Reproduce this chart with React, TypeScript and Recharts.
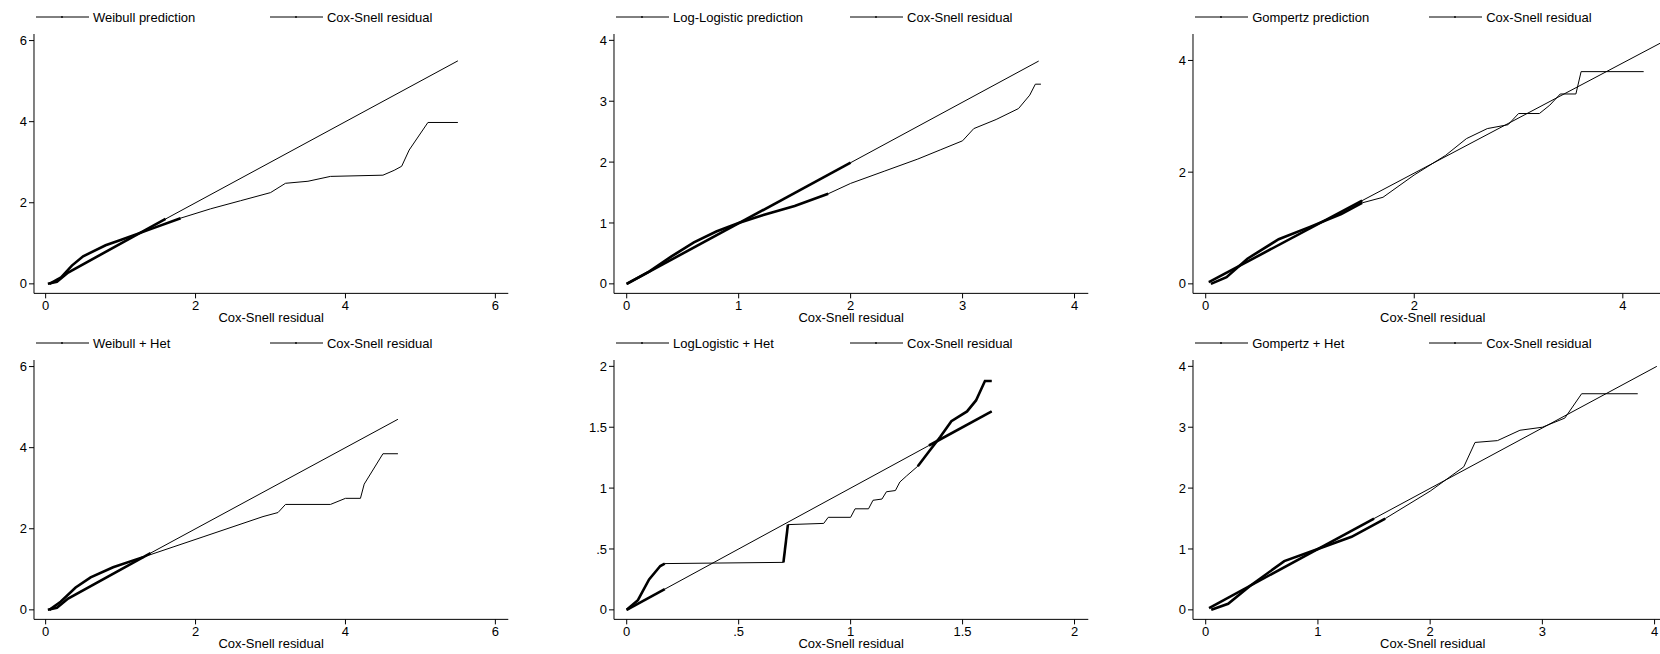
import React from "react";
import { LineChart, Line, XAxis, YAxis } from "recharts";

type P = { x: number; y: number };
type R = [number, number][];

const weibullPred: P[] = [{ x: 0.03, y: 0.0 }, { x: 0.15, y: 0.05 }, { x: 0.3, y: 0.28 }, { x: 1.6, y: 1.6 }, { x: 5.5, y: 5.5 }];
const weibullRes: P[] = [
  { x: 0.05, y: 0 }, { x: 0.2, y: 0.15 }, { x: 0.35, y: 0.45 }, { x: 0.5, y: 0.68 }, { x: 0.8, y: 0.95 },
  { x: 1.0, y: 1.08 }, { x: 1.4, y: 1.35 }, { x: 1.8, y: 1.62 }, { x: 2.2, y: 1.85 }, { x: 2.6, y: 2.05 },
  { x: 3.0, y: 2.25 }, { x: 3.2, y: 2.48 }, { x: 3.5, y: 2.53 }, { x: 3.8, y: 2.65 }, { x: 4.5, y: 2.68 },
  { x: 4.65, y: 2.8 }, { x: 4.75, y: 2.9 }, { x: 4.85, y: 3.3 }, { x: 5.1, y: 3.98 }, { x: 5.5, y: 3.98 },
];
const llPred: P[] = [{ x: 0, y: 0 }, { x: 2.0, y: 1.99 }, { x: 3.68, y: 3.66 }];
const llRes: P[] = [
  { x: 0, y: 0 }, { x: 0.2, y: 0.2 }, { x: 0.4, y: 0.45 }, { x: 0.6, y: 0.68 }, { x: 0.8, y: 0.86 },
  { x: 1.0, y: 1.0 }, { x: 1.2, y: 1.12 }, { x: 1.5, y: 1.28 }, { x: 1.8, y: 1.48 }, { x: 2.0, y: 1.65 },
  { x: 2.3, y: 1.85 }, { x: 2.6, y: 2.05 }, { x: 2.8, y: 2.2 }, { x: 3.0, y: 2.35 }, { x: 3.1, y: 2.55 },
  { x: 3.3, y: 2.7 }, { x: 3.5, y: 2.88 }, { x: 3.6, y: 3.1 }, { x: 3.65, y: 3.28 }, { x: 3.7, y: 3.28 },
];
const gomPred: P[] = [{ x: 0.03, y: 0.03 }, { x: 1.5, y: 1.49 }, { x: 4.4, y: 4.35 }];
const gomRes: P[] = [
  { x: 0.05, y: 0 }, { x: 0.2, y: 0.12 }, { x: 0.4, y: 0.45 }, { x: 0.7, y: 0.8 }, { x: 1.0, y: 1.02 },
  { x: 1.3, y: 1.25 }, { x: 1.5, y: 1.45 }, { x: 1.7, y: 1.55 }, { x: 2.0, y: 1.95 }, { x: 2.3, y: 2.3 },
  { x: 2.5, y: 2.6 }, { x: 2.7, y: 2.78 }, { x: 2.9, y: 2.85 }, { x: 3.0, y: 3.05 }, { x: 3.2, y: 3.05 },
  { x: 3.3, y: 3.2 }, { x: 3.4, y: 3.4 }, { x: 3.55, y: 3.4 }, { x: 3.6, y: 3.8 }, { x: 4.2, y: 3.8 },
];
const weibullHetPred: P[] = [{ x: 0.03, y: 0 }, { x: 0.15, y: 0.05 }, { x: 0.3, y: 0.28 }, { x: 1.4, y: 1.4 }, { x: 4.7, y: 4.7 }];
const weibullHetRes: P[] = [
  { x: 0.05, y: 0 }, { x: 0.2, y: 0.2 }, { x: 0.4, y: 0.55 }, { x: 0.6, y: 0.8 }, { x: 0.9, y: 1.05 },
  { x: 1.3, y: 1.3 }, { x: 1.7, y: 1.55 }, { x: 2.1, y: 1.8 }, { x: 2.5, y: 2.05 }, { x: 2.9, y: 2.3 },
  { x: 3.1, y: 2.4 }, { x: 3.2, y: 2.6 }, { x: 3.8, y: 2.6 }, { x: 4.0, y: 2.75 }, { x: 4.2, y: 2.75 },
  { x: 4.25, y: 3.1 }, { x: 4.5, y: 3.85 }, { x: 4.7, y: 3.85 },
];
const llHetPred: P[] = [{ x: 0, y: 0 }, { x: 0.17, y: 0.17 }, { x: 1.35, y: 1.35 }, { x: 1.63, y: 1.63 }];
const llHetRes: P[] = [
  { x: 0, y: 0 }, { x: 0.05, y: 0.08 }, { x: 0.1, y: 0.25 }, { x: 0.15, y: 0.36 }, { x: 0.17, y: 0.38 },
  { x: 0.7, y: 0.39 }, { x: 0.72, y: 0.7 }, { x: 0.88, y: 0.71 }, { x: 0.9, y: 0.76 }, { x: 1.0, y: 0.76 },
  { x: 1.02, y: 0.83 }, { x: 1.08, y: 0.83 }, { x: 1.1, y: 0.9 }, { x: 1.14, y: 0.91 }, { x: 1.16, y: 0.97 },
  { x: 1.2, y: 0.98 }, { x: 1.22, y: 1.05 }, { x: 1.25, y: 1.1 }, { x: 1.3, y: 1.18 }, { x: 1.35, y: 1.3 },
  { x: 1.4, y: 1.42 }, { x: 1.45, y: 1.55 }, { x: 1.52, y: 1.63 }, { x: 1.56, y: 1.72 }, { x: 1.6, y: 1.88 },
  { x: 1.63, y: 1.88 },
];
const gomHetPred: P[] = [{ x: 0.03, y: 0.03 }, { x: 1.5, y: 1.5 }, { x: 4.02, y: 4.0 }];
const gomHetRes: P[] = [
  { x: 0.05, y: 0 }, { x: 0.2, y: 0.1 }, { x: 0.4, y: 0.4 }, { x: 0.7, y: 0.8 }, { x: 1.0, y: 1.0 },
  { x: 1.3, y: 1.2 }, { x: 1.6, y: 1.5 }, { x: 2.0, y: 1.95 }, { x: 2.3, y: 2.35 }, { x: 2.4, y: 2.75 },
  { x: 2.6, y: 2.78 }, { x: 2.8, y: 2.95 }, { x: 3.0, y: 3.0 }, { x: 3.2, y: 3.15 }, { x: 3.35, y: 3.55 },
  { x: 3.85, y: 3.55 },
];

const ticks6 = [0, 2, 4, 6];
const ticks4 = [0, 1, 2, 3, 4];
const ticksG = [0, 2, 4];
const ticks2 = [0, 0.5, 1, 1.5, 2];

type Panel = {
  name: string; pred: P[]; res: P[]; tp: R; tr: R;
  L: number; R: number; T: number; B: number; x0: number; kx: number; y0: number; ky: number;
  xt: number[]; yt: number[];
};

const panels: Panel[] = [
  { name: "Weibull prediction", pred: weibullPred, res: weibullRes, tp: [[0, 1.6]], tr: [[0, 1.8]], L: 32, R: 480, T: 32, B: 277, x0: 43, kx: 70.8, y0: 268, ky: 38.3, xt: ticks6, yt: ticks6 },
  { name: "Log-Logistic prediction", pred: llPred, res: llRes, tp: [[0, 2.0]], tr: [[0, 1.8]], L: 580, R: 1028, T: 32, B: 277, x0: 592, kx: 105.75, y0: 268, ky: 57.5, xt: ticks4, yt: ticks4 },
  { name: "Gompertz prediction", pred: gomPred, res: gomRes, tp: [[0, 1.5]], tr: [[0, 1.5]], L: 1127, R: 1580, T: 32, B: 277, x0: 1139, kx: 98.5, y0: 268, ky: 52.75, xt: ticksG, yt: ticksG },
  { name: "Weibull + Het", pred: weibullHetPred, res: weibullHetRes, tp: [[0, 1.4]], tr: [[0, 1.3]], L: 32, R: 480, T: 340, B: 585, x0: 43, kx: 70.8, y0: 576, ky: 38.3, xt: ticks6, yt: ticks6 },
  { name: "LogLogistic + Het", pred: llHetPred, res: llHetRes, tp: [[0, 0.17], [1.35, 1.63]], tr: [[0, 0.17], [0.7, 0.72], [1.3, 1.63]], L: 580, R: 1028, T: 340, B: 585, x0: 592, kx: 211.5, y0: 576, ky: 115, xt: ticks2, yt: ticks2 },
  { name: "Gompertz + Het", pred: gomHetPred, res: gomHetRes, tp: [[0, 1.5]], tr: [[0, 1.6]], L: 1127, R: 1580, T: 340, B: 585, x0: 1139, kx: 106, y0: 576, ky: 57.5, xt: ticks4, yt: ticks4 },
];

const S = 1660 / 1568;
const fmt = (v: number) => String(v).replace(/^0\./, ".");
const font = "Arial, 'Liberation Sans', sans-serif";
const FS = 13;

function LegendItem({ left, top, label }: { left: number; top: number; label: string }) {
  return (
    <div style={{ position: "absolute", left, top, display: "flex", alignItems: "center", fontSize: FS, fontFamily: font, whiteSpace: "nowrap" }}>
      <svg width={55} height={4}><line x1={0} y1={2} x2={53} y2={2} stroke="#000" strokeWidth={1} /><circle cx={26} cy={2} r={0.9} fill="#000" /></svg>
      <span style={{ marginLeft: 2 }}>{label}</span>
    </div>
  );
}

const inRange = (d: P[], [a, b]: [number, number]) => d.filter((p) => p.x >= a - 1e-9 && p.x <= b + 1e-9);

function PanelChart({ p }: { p: Panel }) {
  const L = p.L * S, Rr = p.R * S, T = p.T * S, B = p.B * S, x0 = p.x0 * S, kx = p.kx * S, y0 = p.y0 * S, ky = p.ky * S;
  const xmin = (L - x0) / kx, xmax = (Rr - x0) / kx;
  const ymax = (y0 - T) / ky, ymin = (y0 - B) / ky;
  const W = Rr - L + 42, H = B - T + 45;
  return (
    <>
      <LegendItem left={L + 2} top={T - 24} label={p.name} />
      <LegendItem left={L + 236} top={T - 24} label="Cox-Snell residual" />
      <div style={{ position: "absolute", left: L - 40, top: T - 10 }}>
        <LineChart width={W} height={H} margin={{ top: 10, left: 10, right: 2, bottom: 0 }}>
          <XAxis type="number" dataKey="x" domain={[xmin, xmax]} allowDataOverflow ticks={p.xt} tickFormatter={fmt}
            height={35} stroke="#000" tick={{ fill: "#000", fontSize: FS, fontFamily: font }} tickSize={5}
            label={{ value: "Cox-Snell residual", position: "insideBottom", offset: 6, fill: "#000", fontSize: FS, fontFamily: font }} />
          <YAxis type="number" dataKey="y" domain={[ymin, ymax]} allowDataOverflow ticks={p.yt} tickFormatter={fmt}
            width={30} stroke="#000" tick={{ fill: "#000", fontSize: FS, fontFamily: font }} tickSize={5} />
          <Line data={p.pred} dataKey="y" type="linear" stroke="#000" strokeWidth={1} dot={false} isAnimationActive={false} />
          <Line data={p.res} dataKey="y" type="linear" stroke="#000" strokeWidth={1} dot={false} isAnimationActive={false} />
          {p.tp.map((r, i) => (
            <Line key={"p" + i} data={inRange(p.pred, r)} dataKey="y" type="linear" stroke="#000" strokeWidth={2.6} dot={false} isAnimationActive={false} />
          ))}
          {p.tr.map((r, i) => (
            <Line key={"r" + i} data={inRange(p.res, r)} dataKey="y" type="linear" stroke="#000" strokeWidth={2.6} dot={false} isAnimationActive={false} />
          ))}
        </LineChart>
      </div>
    </>
  );
}

export default function App() {
  return (
    <div style={{ position: "absolute", left: 0, top: 0, width: 1660, height: 654, background: "#fff", overflow: "hidden" }}>
      {panels.map((p) => <PanelChart key={p.name} p={p} />)}
    </div>
  );
}
